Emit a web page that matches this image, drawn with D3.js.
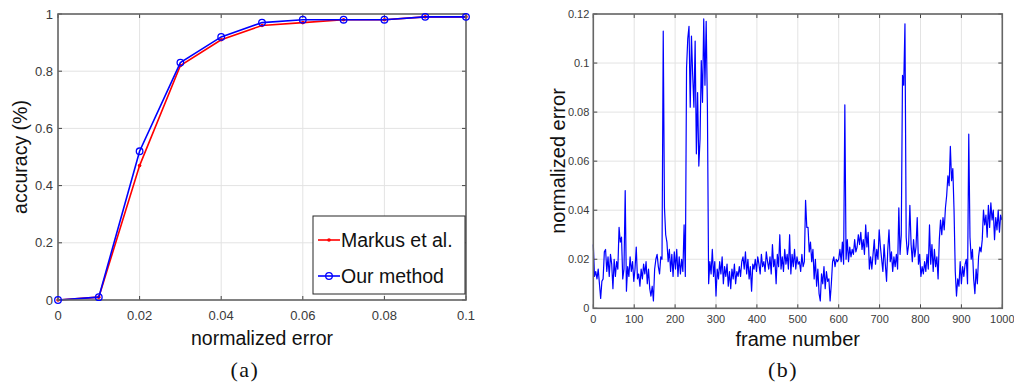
<!DOCTYPE html>
<html><head><meta charset="utf-8">
<script src="https://cdn.jsdelivr.net/npm/d3@7"></script>
<style>body{margin:0;background:#fff}svg{display:block}</style>
</head><body><svg id="c" width="1014" height="385"></svg>
<script>
// ---------- data (a) ----------
const errThresholds = [0, 0.01, 0.02, 0.03, 0.04, 0.05, 0.06, 0.07, 0.08, 0.09, 0.1];
const markusAcc = [0, 0.01, 0.47, 0.82, 0.91, 0.96, 0.97, 0.98, 0.98, 0.99, 0.99];
const ourAcc    = [0, 0.01, 0.52, 0.83, 0.92, 0.97, 0.98, 0.98, 0.98, 0.99, 0.99];
const errTicks = [0, 0.02, 0.04, 0.06, 0.08, 0.1];
const errTickLabels = ["0", "0.02", "0.04", "0.06", "0.08", "0.1"];
const accTicks = [0, 0.2, 0.4, 0.6, 0.8, 1];
const accTickLabels = ["0", "0.2", "0.4", "0.6", "0.8", "1"];
const seriesNames = ["Markus et al.", "Our method"];

// ---------- data (b) : normalized error, one value every 3 frames ----------
const frameStep = 3;
const frameError = [
.026,.013,.015,.012,.016,.010,.004,.011,.012,.023,
.024,.015,.021,.013,.022,.018,.008,.020,.013,.019,
.016,.033,.027,.029,.012,.016,.048,.007,.017,.013,
.021,.015,.019,.011,.016,.025,.012,.014,.009,.016,
.012,.018,.014,.019,.010,.016,.008,.005,.009,.003,
.016,.020,.022,.017,.014,.021,.020,.113,.041,.030,
.027,.019,.024,.015,.022,.013,.023,.016,.024,.013,
.021,.014,.020,.015,.034,.013,.098,.110,.115,.082,
.111,.095,.082,.109,.063,.088,.058,.069,.101,.084,
.118,.091,.117,.082,.010,.019,.014,.024,.013,.019,
.005,.016,.012,.019,.014,.021,.010,.017,.013,.018,
.009,.015,.008,.016,.012,.018,.010,.015,.013,.017,
.013,.019,.021,.016,.023,.014,.020,.012,.017,.007,
.018,.016,.020,.015,.021,.018,.014,.022,.017,.019,
.015,.023,.019,.016,.021,.014,.026,.017,.020,.010,
.022,.017,.030,.016,.021,.015,.024,.018,.022,.016,
.030,.014,.022,.017,.024,.016,.021,.018,.019,.015,
.022,.017,.019,.044,.033,.033,.023,.027,.019,.024,
.012,.020,.009,.016,.006,.003,.014,.010,.017,.008,
.015,.011,.012,.003,.010,.019,.021,.017,.020,.019,
.020,.024,.019,.027,.018,.083,.020,.028,.019,.025,
.021,.024,.022,.028,.023,.025,.030,.026,.031,.024,
.028,.022,.034,.025,.031,.016,.021,.016,.022,.028,
.018,.024,.020,.032,.025,.020,.015,.026,.018,.011,
.024,.032,.019,.023,.015,.021,.017,.022,.016,.041,
.022,.030,.095,.091,.116,.029,.022,.026,.042,.026,
.019,.028,.021,.025,.037,.018,.022,.013,.017,.014,
.019,.015,.022,.016,.034,.018,.026,.015,.024,.017,
.021,.012,.028,.036,.030,.037,.032,.041,.046,.054,
.050,.066,.052,.057,.040,.015,.005,.012,.009,.019,
.010,.017,.013,.018,.020,.010,.071,.029,.020,.024,
.012,.006,.016,.010,.021,.025,.023,.028,.040,.034,
.038,.029,.042,.033,.043,.036,.040,.028,.037,.032,
.040,.031,.038,.036
];
const frameTicks = [0, 100, 200, 300, 400, 500, 600, 700, 800, 900, 1000];
const frameErrTicks = [0, 0.02, 0.04, 0.06, 0.08, 0.1, 0.12];
const frameErrTickLabels = ["0", "0.02", "0.04", "0.06", "0.08", "0.1", "0.12"];

// ---------- drawing ----------
const svg = d3.select("#c");
const FONT = "'Liberation Sans', Arial, Helvetica, sans-serif";
const AXIS = "#666";
const GRID = "#e3e3e3";
const TICKTXT = "#3a3a3a";

function frame(g, x, y, xt, yt, opts) {
  const [x0, x1] = x.range(), [y0, y1] = y.range(); // y0 bottom, y1 top
  // grid
  g.append("g").selectAll("line").data(xt).join("line")
    .attr("x1", d => x(d)).attr("x2", d => x(d)).attr("y1", y1).attr("y2", y0)
    .attr("stroke", GRID).attr("stroke-width", 1);
  g.append("g").selectAll("line").data(yt).join("line")
    .attr("y1", d => y(d)).attr("y2", d => y(d)).attr("x1", x0).attr("x2", x1)
    .attr("stroke", GRID).attr("stroke-width", 1);
}
function box(g, x, y, xt, yt, xl, yl, opts) {
  const [x0, x1] = x.range(), [y0, y1] = y.range();
  const tk = 4;
  const tg = g.append("g").attr("stroke", "#444").attr("stroke-width", 1);
  xt.forEach(d => {
    tg.append("line").attr("x1", x(d)).attr("x2", x(d)).attr("y1", y0).attr("y2", y0 - tk);
    tg.append("line").attr("x1", x(d)).attr("x2", x(d)).attr("y1", y1).attr("y2", y1 + tk);
  });
  yt.forEach(d => {
    tg.append("line").attr("y1", y(d)).attr("y2", y(d)).attr("x1", x0).attr("x2", x0 + tk);
    tg.append("line").attr("y1", y(d)).attr("y2", y(d)).attr("x1", x1).attr("x2", x1 - tk);
  });
  g.append("rect").attr("x", x0).attr("y", y1).attr("width", x1 - x0).attr("height", y0 - y1)
    .attr("fill", "none").attr("stroke", AXIS).attr("stroke-width", 1.6);
  g.append("g").selectAll("text").data(xt).join("text")
    .attr("x", d => x(d)).attr("y", y0 + opts.xLabGap).attr("text-anchor", "middle")
    .attr("font-family", FONT).attr("font-size", opts.tickFs).attr("fill", TICKTXT)
    .text((d, i) => xl[i]);
  g.append("g").selectAll("text").data(yt).join("text")
    .attr("x", x0 - opts.yLabGap).attr("y", d => y(d)).attr("dy", "0.35em").attr("text-anchor", "end")
    .attr("font-family", FONT).attr("font-size", opts.tickFs).attr("fill", TICKTXT)
    .text((d, i) => yl[i]);
}

// ===== (a) =====
const gA = svg.append("g");
const xA = d3.scaleLinear().domain([0, 0.1]).range([58, 466]);
const yA = d3.scaleLinear().domain([0, 1]).range([300, 14]);
frame(gA, xA, yA, errTicks, accTicks);
const lineA = d3.line().x((d, i) => xA(errThresholds[i])).y(d => yA(d));
gA.append("path").datum(markusAcc).attr("d", lineA).attr("fill", "none")
  .attr("stroke", "#ff0000").attr("stroke-width", 1.6);
gA.append("g").selectAll("circle").data(markusAcc).join("circle")
  .attr("cx", (d, i) => xA(errThresholds[i])).attr("cy", d => yA(d)).attr("r", 1.8).attr("fill", "#ff0000");
gA.append("path").datum(ourAcc).attr("d", lineA).attr("fill", "none")
  .attr("stroke", "#0000ff").attr("stroke-width", 1.6);
box(gA, xA, yA, errTicks, accTicks, errTickLabels, accTickLabels, {xLabGap: 20, yLabGap: 5, tickFs: 13});
gA.append("g").selectAll("circle").data(ourAcc).join("circle")
  .attr("cx", (d, i) => xA(errThresholds[i])).attr("cy", d => yA(d)).attr("r", 3.3)
  .attr("fill", "none").attr("stroke", "#0000ff").attr("stroke-width", 1.3);
gA.append("text").attr("x", 262).attr("y", 345).attr("text-anchor", "middle")
  .attr("font-family", FONT).attr("font-size", 19.5).attr("fill", "#111").text("normalized error");
gA.append("text").attr("transform", "translate(27,157) rotate(-90)").attr("text-anchor", "middle")
  .attr("font-family", FONT).attr("font-size", 19.5).attr("fill", "#111").text("accuracy (%)");
// legend
const lg = gA.append("g");
lg.append("rect").attr("x", 313).attr("y", 216).attr("width", 152).attr("height", 78)
  .attr("fill", "#fff").attr("stroke", "#262626").attr("stroke-width", 1);
const legY = [240, 276], legCol = ["#ff0000", "#0000ff"];
seriesNames.forEach((n, i) => {
  lg.append("line").attr("x1", 318).attr("x2", 340).attr("y1", legY[i]).attr("y2", legY[i])
    .attr("stroke", legCol[i]).attr("stroke-width", 1.6);
  if (i === 0) lg.append("circle").attr("cx", 329).attr("cy", legY[i]).attr("r", 1.8).attr("fill", legCol[i]);
  else lg.append("circle").attr("cx", 329).attr("cy", legY[i]).attr("r", 3.3).attr("fill", "none")
    .attr("stroke", legCol[i]).attr("stroke-width", 1.3);
  lg.append("text").attr("x", 341).attr("y", legY[i] + 7).attr("font-family", FONT)
    .attr("font-size", 19.5).attr("fill", "#111").text(n);
});
gA.append("text").attr("x", 245).attr("y", 377).attr("text-anchor", "middle")
  .attr("font-family", "'Liberation Serif', 'DejaVu Serif', serif").attr("font-size", 22)
  .attr("letter-spacing", 1.5).attr("fill", "#111").text("(a)");

// ===== (b) =====
const gB = svg.append("g");
const xB = d3.scaleLinear().domain([0, 1000]).range([593.3, 1002.3]);
const yB = d3.scaleLinear().domain([0, 0.12]).range([308.3, 14]);
frame(gB, xB, yB, frameTicks, frameErrTicks);
const lineB = d3.line().x((d, i) => xB(i * frameStep)).y(d => yB(d));
gB.append("path").datum(frameError).attr("d", lineB).attr("fill", "none")
  .attr("stroke", "#0000ff").attr("stroke-width", 1.2).attr("stroke-linejoin", "round");
box(gB, xB, yB, frameTicks, frameErrTicks, frameTicks.map(String), frameErrTickLabels, {xLabGap: 14.5, yLabGap: 4, tickFs: 11});
gB.append("text").attr("x", 797.7).attr("y", 346).attr("text-anchor", "middle")
  .attr("font-family", FONT).attr("font-size", 20).attr("fill", "#111").text("frame number");
gB.append("text").attr("transform", "translate(564.5,161) rotate(-90)").attr("text-anchor", "middle")
  .attr("font-family", FONT).attr("font-size", 20).attr("fill", "#111").text("normalized error");
gB.append("text").attr("x", 783).attr("y", 377).attr("text-anchor", "middle")
  .attr("font-family", "'Liberation Serif', 'DejaVu Serif', serif").attr("font-size", 22)
  .attr("letter-spacing", 1.5).attr("fill", "#111").text("(b)");
</script>
</body></html>
